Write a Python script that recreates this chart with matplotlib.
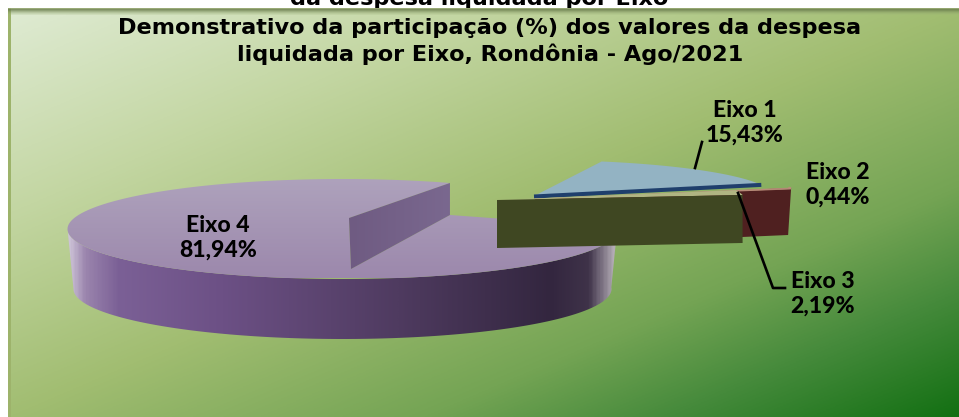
import numpy as np
import matplotlib
matplotlib.use("Agg")
import matplotlib.pyplot as plt
from matplotlib.colors import LinearSegmentedColormap as LSC
from matplotlib.patches import Polygon, Rectangle

# ---- data ----
categories = ["Eixo 1", "Eixo 2", "Eixo 3", "Eixo 4"]
shares = [15.43, 0.44, 2.19, 81.94]
title_lines = ["Demonstrativo da participação (%) dos valores da despesa",
               "liquidada por Eixo, Rondônia - Ago/2021"]
clipped_header = "da despesa liquidada por Eixo"

W, H = 959, 417
fig = plt.figure(figsize=(W / 100, H / 100), dpi=100, facecolor="white")
ax = fig.add_axes([0, 0, 1, 1])
ax.set_facecolor("white")
ax.axis("off")


def gradient(arr, extent, cm, clip=None, z=1):
    im = ax.imshow(arr, extent=extent, cmap=cm, vmin=0, vmax=1, aspect="auto",
                   origin="upper", zorder=z, interpolation="bilinear")
    if clip is not None:
        patch = Polygon(clip, closed=True, transform=ax.transData, fc="none", ec="none")
        ax.add_patch(patch)
        im.set_clip_path(patch)
    return im


# background
bg = LSC.from_list("bg", [(0, "#dfebd3"), (.25, "#c3d6a2"), (.5, "#a1bd71"),
                          (.72, "#74a454"), (.85, "#458a3b"), (1, "#137013")])
yy, xx = np.mgrid[0:1:300j, 0:1:600j]
gradient((xx + yy) / 2, (8, W, H, 8), bg)
ax.add_patch(Rectangle((8, 8), 3, H - 8, fc="#9db36b", ec="none", zorder=2))
top = np.linspace(0, 1, 20)[:, None]
im = gradient(top, (8, W, 15, 8), LSC.from_list("s", [(0, "#a4b57e"), (.2, "#66784a"), (1, "#9fb57a")]), z=2)
im.set_alpha(np.clip(1.15 - top, 0, 1) * .9)


def arc(c, rx, ry, a0, sweep, n=160):
    t = np.radians(np.linspace(a0, a0 + sweep, n))
    return np.c_[c[0] + rx * np.cos(t), c[1] - ry * np.sin(t)]


def sweep_of(v):
    return v / 100 * 360


# ---- Eixo 4: main disc ----
c4, rx4, ry4, depth4 = (342.5, 229), 275, 50, 60
apex4 = (349, 218)
a0 = 67
s4 = sweep_of(shares[3])
rim = arc(c4, rx4, ry4, a0, s4)
near_depth, far_depth = 51, 32
far_low = rim[0] + [0, far_depth]
near_low = (apex4[0] + 2, apex4[1] + near_depth)
front = arc(c4, rx4, ry4, 180, a0 + s4 - 180)
front_low = arc((c4[0], c4[1] + depth4), rx4 - 6, ry4, 180, a0 + s4 - 180)
side = np.vstack([front, front_low[::-1]])
side_cm = LSC.from_list("side", [(0, "#ccc2d6"), (.03, "#9a84ad"), (.09, "#7b6096"), (.28, "#6c5085"),
                                 (.6, "#4f3b60"), (.88, "#33263f"), (.95, "#3f3349"), (1, "#bdb6bf")])
gradient(np.linspace(0, 1, 400)[None, :], (rim[:, 0].min(), rim[:, 0].max(), 345, 175), side_cm, side, 3)
surface = np.vstack([rim, far_low, near_low, apex4])
gradient(np.linspace(0, 1, 100)[:, None], (60, 625, 278, 178),
         LSC.from_list("t", ["#aea2bc", "#9c88ac"]), surface, 4)
wall = np.array([apex4, rim[0], far_low, near_low])
gradient(np.linspace(0, 1, 100)[None, :], (349, 451, 270, 179),
         LSC.from_list("w", ["#6f5b82", "#7a688f"]), wall, 5)

# ---- Eixo 1: displaced thin wedge ----
c1, rx1, ry1 = (534, 196), 239, 36
rim1 = arc(c1, rx1, ry1, 18, sweep_of(shares[0]))
ax.add_patch(Polygon(np.vstack([c1, rim1]), fc="#93b3c3", ec="none", zorder=6))
ax.plot([c1[0], rim1[0, 0]], [c1[1] + .5, rim1[0, 1]], color="#1f3f6c", lw=2.9, zorder=7,
        solid_capstyle="butt")

# ---- Eixo 2: displaced sliver with tall wall ----
c2, rx2, ry2, depth2 = (535, 199), 269, 36, 47
rim2 = arc(c2, rx2, ry2, 17.8, sweep_of(shares[1]))
ax.add_patch(Polygon([c2, rim2[0], rim2[0] + [-3, depth2], np.array(c2) + [0, depth2]],
                     fc="#4f2020", ec="none", zorder=8))
ax.add_patch(Polygon(np.vstack([c2, rim2, rim2[0] + [0, 1]]), fc="#b78c78", ec="#b78c78", lw=.6, zorder=9))

# ---- Eixo 3: displaced wedge with wall ----
c3, rx3, ry3, depth3 = (497, 200), 248, 36, 48
rim3 = arc(c3, rx3, ry3, 8, sweep_of(shares[2]))
ax.add_patch(Polygon(np.vstack([c3, rim3]), fc="#b0b582", ec="none", zorder=10))
ax.add_patch(Polygon([c3, rim3[0], rim3[0] + [0, depth3], np.array(c3) + [0, depth3]],
                     fc="#3f4722", ec="none", zorder=11))

# ---- leader lines ----
ax.plot([702, 695], [142, 168], color="black", lw=1.9, zorder=12)
ax.plot([738, 773, 785], [193, 288, 288], color="black", lw=1.9, zorder=12)

# ---- labels ----
label_pos = {"Eixo 1": (745, 123), "Eixo 2": (838, 184.5), "Eixo 3": (823, 294), "Eixo 4": (218, 238)}
for name, v in zip(categories, shares):
    x, y = label_pos[name]
    ax.text(x, y - 12.5, name, ha="center", va="center", fontsize=16.6, fontweight=900,
            family="Lato", color="black", zorder=13)
    ax.text(x, y + 12.5, f"{v:.2f}%".replace(".", ","), ha="center", va="center", fontsize=16.6,
            fontweight=900, family="Lato", color="black", zorder=13)

# ---- titles ----
for line, y in zip(title_lines, (28, 54)):
    ax.text(490, y, line, ha="center", va="center", fontsize=16.15, fontweight="bold",
            family="DejaVu Sans", color="black", zorder=13)
ax.text(479, 5, clipped_header, ha="center", va="baseline", fontsize=16.15, fontweight="bold",
        family="DejaVu Sans", color="black", zorder=0.5)

ax.set_xlim(0, W)
ax.set_ylim(H, 0)
fig.savefig("out.png", dpi=100, facecolor="white")
